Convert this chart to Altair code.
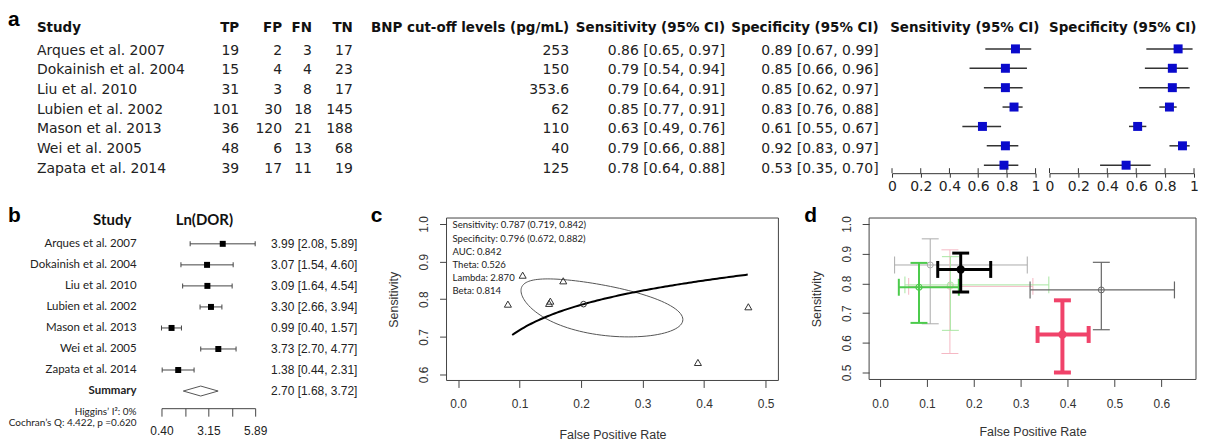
import altair as alt
import pandas as pd

# ---------------- data ----------------
studies = ["Arques et al. 2007", "Dokainish et al. 2004", "Liu et al. 2010",
           "Lubien et al. 2002", "Mason et al. 2013", "Wei et al. 2005", "Zapata et al. 2014"]
tp = [19, 15, 31, 101, 36, 48, 39]
fp = [2, 4, 3, 30, 120, 6, 17]
fn = [3, 4, 8, 18, 21, 13, 11]
tn = [17, 23, 17, 145, 188, 68, 19]
bnp = ["253", "150", "353.6", "62", "110", "40", "125"]
sens = [0.86, 0.79, 0.79, 0.85, 0.63, 0.79, 0.78]
sens_lo = [0.65, 0.54, 0.64, 0.77, 0.49, 0.66, 0.64]
sens_hi = [0.97, 0.94, 0.91, 0.91, 0.76, 0.88, 0.88]
spec = [0.89, 0.85, 0.85, 0.83, 0.61, 0.92, 0.53]
spec_lo = [0.67, 0.66, 0.62, 0.76, 0.55, 0.83, 0.35]
spec_hi = [0.99, 0.96, 0.97, 0.88, 0.67, 0.97, 0.70]
forest_ticks = [0, 0.2, 0.4, 0.6, 0.8, 1]

lndor = [3.99, 3.07, 3.09, 3.30, 0.99, 3.73, 1.38]
lndor_lo = [2.08, 1.54, 1.64, 2.66, 0.40, 2.70, 0.44]
lndor_hi = [5.89, 4.60, 4.54, 3.94, 1.57, 4.77, 2.31]
summary_lndor = [2.70, 1.68, 3.72]
lndor_ticks = [0.40, 1.7725, 3.15, 4.5175, 5.89]
lndor_labelled = [0.40, 3.15, 5.89]
het_text = ["Higgins\u2019 I\u00b2: 0%", "Cochran\u2019s Q: 4.422, p =0.620"]

c_fpr = [0.105, 0.148, 0.150, 0.171, 0.390, 0.081, 0.472]
c_sens = [0.864, 0.789, 0.795, 0.849, 0.632, 0.787, 0.780]
c_summary = [0.204, 0.787]          # (FPR, sensitivity)
c_ellipse = [0.81, 0.46, 2.094]     # logit half-extents (fpr, sens) and phase
c_sroc = [1.914, 0.446]             # logit(sens) = a + b*logit(fpr)
c_sroc_range = [0.088, 0.471]
c_notes = ["Sensitivity: 0.787 (0.719, 0.842)", "Specificity: 0.796 (0.672, 0.882)",
           "AUC: 0.842", "Theta: 0.526", "Lambda: 2.870", "Beta: 0.814"]
c_xticks = [0.0, 0.1, 0.2, 0.3, 0.4, 0.5]
c_yticks = [0.6, 0.7, 0.8, 0.9, 1.0]

d_fpr = [0.107, 0.149, 0.150, 0.172, 0.389, 0.083, 0.472]
d_sens = [0.862, 0.790, 0.795, 0.847, 0.628, 0.787, 0.778]
d_sens_lo = [0.664, 0.564, 0.642, 0.771, 0.500, 0.667, 0.644]
d_sens_hi = [0.950, 0.913, 0.890, 0.902, 0.743, 0.869, 0.871]
d_fpr_lo = [0.031, 0.061, 0.053, 0.123, 0.336, 0.040, 0.320]
d_fpr_hi = [0.314, 0.326, 0.360, 0.236, 0.445, 0.168, 0.628]
d_xticks = [0.0, 0.1, 0.2, 0.3, 0.4, 0.5, 0.6]
d_yticks = [0.5, 0.6, 0.7, 0.8, 0.9, 1.0]

# ---------------- styles ----------------
TF = "DejaVu Sans"
RF = "Liberation Sans"
CF = "Lato"
TXT = "#222222"

d_style = {
    "Arques et al. 2007": ("#ABABAB", 1.0, False),
    "Dokainish et al. 2004": ("#F5B8C4", 1.0, False),
    "Liu et al. 2010": ("#A8E6A2", 1.0, False),
    "Zapata et al. 2014": ("#666666", 1.2, False),
    "Wei et al. 2005": ("#4CCB4C", 2.0, False),
    "Lubien et al. 2002": ("#000000", 3.0, True),
    "Mason et al. 2013": ("#F0436A", 4.0, True),
}


def one(**kw):
    return pd.DataFrame({k: [v] for k, v in kw.items()})


def fmt_ci(e, l, h):
    return [f"{a:.2f} [{b:.2f}, {c:.2f}]" for a, b, c in zip(e, l, h)]


# ---------------- panel a: table ----------------
df_a = pd.DataFrame({"study": studies, "tp": tp, "fp": fp, "fn": fn, "tn": tn, "bnp": bnp,
                     "sens_txt": fmt_ci(sens, sens_lo, sens_hi),
                     "spec_txt": fmt_ci(spec, spec_lo, spec_hi)})
for k in ["tp", "fp", "fn", "tn"]:
    df_a[k] = df_a[k].astype(str)

ya = alt.Y("study:N", scale=alt.Scale(type="point", domain=studies, range=[42.1, 160.4], padding=0),
           axis=None)
cols = [("Study", "study", 29, "left"), ("TP", "tp", 232, "right"), ("FP", "fp", 275, "right"),
        ("FN", "fn", 305, "right"), ("TN", "tn", 346, "right"),
        ("BNP cut-off levels (pg/mL)", "bnp", 563, "right"),
        ("Sensitivity (95% CI)", "sens_txt", 719.5, "right"),
        ("Specificity (95% CI)", "spec_txt", 873.5, "right")]
a_layers = [alt.Chart(one(t="a")).mark_text(align="left", baseline="alphabetic", font=RF,
                                             fontSize=21, fontWeight="bold", color="#000")
            .encode(x=alt.value(0), y=alt.value(17), text="t:N")]
for hdr, field, xp, al in cols:
    a_layers.append(alt.Chart(one(t=hdr)).mark_text(align=al, baseline="middle", font=TF, fontSize=13.5,
                                                    fontWeight="bold", color="#111")
                    .encode(x=alt.value(xp), y=alt.value(19.6), text="t:N"))
    a_layers.append(alt.Chart(df_a).mark_text(align=al, baseline="middle", font=TF, fontSize=14, color=TXT)
                    .encode(x=alt.value(xp), y=ya, text=f"{field}:N"))
panel_a = alt.layer(*a_layers).properties(width=873, height=165)


def forest(est, lo, hi, title, w):
    df = pd.DataFrame({"study": studies, "est": est, "lo": lo, "hi": hi})
    xs = alt.Scale(domain=[0, 1], nice=False, zero=False)
    ax = alt.Axis(values=forest_ticks, format="~g", tickSize=4, tickColor="#333", domainColor="#333",
                  labelPadding=2, labelFont=TF, labelFontSize=14, labelColor=TXT, grid=False,
                  labelFlush=False, labelOverlap=False)
    y = alt.Y("study:N", scale=alt.Scale(type="point", domain=studies, range=[40.3, 157], padding=0),
              axis=None)
    rule = alt.Chart(df).mark_rule(color="#333", strokeWidth=1.5).encode(
        x=alt.X("lo:Q", scale=xs, axis=ax, title=None), x2="hi:Q", y=y)
    sq = alt.Chart(df).mark_square(size=81, color="#0A0ACC", opacity=1).encode(
        x=alt.X("est:Q", scale=xs, axis=ax, title=None), y=y)
    up = alt.Chart(pd.DataFrame({"t": forest_ticks})).mark_rule(color="#333").encode(
        x=alt.X("t:Q", scale=xs, axis=ax, title=None), y=alt.value(160), y2=alt.value(165))
    hd = alt.Chart(one(t=title)).mark_text(align="center", baseline="middle", font=TF, fontSize=13.5,
                                           fontWeight="bold", color="#111").encode(
        x=alt.value(w / 2 + 1), y=alt.value(19.6), text="t:N")
    return alt.layer(rule, sq, up, hd).properties(width=w, height=165)


panel_a_sens = forest(sens, sens_lo, sens_hi, "Sensitivity (95% CI)", 144)
panel_a_spec = forest(spec, spec_lo, spec_hi, "Specificity (95% CI)", 145)

# ---------------- panel b ----------------
BY = 2.5  # vertical shift of panel b contents inside its view
rows_b = studies + ["Summary"]
df_b = pd.DataFrame({"study": studies, "est": lndor, "lo": lndor_lo, "hi": lndor_hi})
df_bt = pd.DataFrame({"study": rows_b,
                      "txt": fmt_ci(lndor + [summary_lndor[0]], lndor_lo + [summary_lndor[1]],
                                    lndor_hi + [summary_lndor[2]])})
e, l, h = summary_lndor
df_dia = pd.DataFrame({"study": ["Summary"] * 5, "dx": [l, e, h, e, l], "dy": [0, -5, 0, 5, 0],
                       "o": [0, 1, 2, 3, 4]})
xb = alt.Scale(domain=[0.40, 5.89], range=[154, 248], nice=False, zero=False)
lab_expr = " || ".join(f"datum.value == {v}" for v in lndor_labelled)
axb = alt.Axis(values=lndor_ticks, labelExpr=f"({lab_expr}) ? format(datum.value, '.2f') : ''",
               offset=25.3 + BY, tickSize=8, tickColor="#444", domainColor="#444", labelPadding=9,
               labelFont=RF, labelFontSize=12, labelColor=TXT, grid=False, labelFlush=False,
               labelOverlap=False)
yb = alt.Y("study:N", scale=alt.Scale(type="point", domain=rows_b, range=[23.4 + BY, 171.1 + BY],
                                      padding=0), axis=None)
XB = lambda f: alt.X(f, scale=xb, axis=axb, title=None)
b_layers = [
    alt.Chart(df_b).mark_rule(color="#444", strokeWidth=1).encode(x=XB("lo:Q"), x2="hi:Q", y=yb),
    alt.Chart(df_b).mark_tick(orient="vertical", size=5, thickness=1, color="#444", opacity=1).encode(
        x=XB("lo:Q"), y=yb),
    alt.Chart(df_b).mark_tick(orient="vertical", size=5, thickness=1, color="#444", opacity=1).encode(
        x=XB("hi:Q"), y=yb),
    alt.Chart(df_b).mark_square(size=36, color="#000", opacity=1).encode(x=XB("est:Q"), y=yb),
    alt.Chart(df_dia).mark_line(color="#555", strokeWidth=1).encode(
        x=XB("dx:Q"), y=yb, yOffset=alt.YOffset("dy:Q", scale=None), order="o:Q"),
    alt.Chart(pd.DataFrame({"study": studies})).mark_text(align="right", baseline="middle", font=CF,
                                                          fontSize=11.5, color=TXT).encode(
        x=alt.value(129), y=yb, text="study:N"),
    alt.Chart(one(study="Summary")).mark_text(align="right", baseline="middle", font=CF, fontSize=11.5,
                                              fontWeight="bold", color=TXT).encode(
        x=alt.value(129), y=yb, text="study:N"),
    alt.Chart(df_bt).mark_text(align="left", baseline="middle", font=RF, fontSize=12, color=TXT).encode(
        x=alt.value(264), y=yb, text="txt:N"),
    alt.Chart(one(t="b")).mark_text(align="left", baseline="alphabetic", font=RF, fontSize=21,
                                     fontWeight="bold", color="#000").encode(
        x=alt.value(0), y=alt.value(4), text="t:N"),
    alt.Chart(one(t="Study")).mark_text(align="center", baseline="middle", font=CF, fontSize=15,
                                         fontWeight="bold", color="#111").encode(
        x=alt.value(104.5), y=alt.value(1.5), text="t:N"),
    alt.Chart(one(t="Ln(DOR)")).mark_text(align="center", baseline="middle", font=CF, fontSize=15,
                                           fontWeight="bold", color="#111").encode(
        x=alt.value(197), y=alt.value(1.5), text="t:N"),
]
for i, t in enumerate(het_text):
    b_layers.append(alt.Chart(one(t=t)).mark_text(align="right", baseline="middle", font=CF, fontSize=10,
                                                  color=TXT).encode(
        x=alt.value(129), y=alt.value(191.7 + BY + 11 * i), text="t:N"))
panel_b = alt.layer(*b_layers).properties(width=426, height=163)


# ---------------- panels c and d: shared axis helper ----------------
def r_axis(values, title, vertical, lab_pad, title_pad):
    kw = dict(values=values, format=".1f", title=title, domain=False, tickSize=7, tickColor="#444",
              labelFont=RF, labelFontSize=12, labelColor="#333", labelPadding=lab_pad,
              titleFont=RF, titleFontSize=12.5, titleFontWeight="normal", titleColor="#333",
              titlePadding=title_pad, grid=False, labelFlush=False, labelOverlap=False)
    if vertical:
        kw.update(labelAngle=-90, labelAlign="center", labelBaseline="bottom")
    return alt.Axis(**kw)


# ---------------- panel c ----------------
CW, CH = 333, 163
xc = alt.Scale(domain=[-0.0188, 0.5209], range=[0, CW], nice=False, zero=False)
yc = alt.Scale(domain=[0.5841, 1.0159], nice=False, zero=False)
axc_x = r_axis(c_xticks, "False Positive Rate", False, 11, 19)
axc_y = r_axis(c_yticks, "Sensitivity", True, 9.5, 17)
XC = lambda f: alt.X(f, scale=xc, axis=axc_x)
YC = lambda f: alt.Y(f, scale=yc, axis=axc_y)

df_c = pd.DataFrame({"fpr": c_fpr, "sens": c_sens})
sx, sy = c_summary
ea, eb, ph = c_ellipse
ellipse = alt.Chart(alt.sequence(0, 121, 1, as_="i")).transform_calculate(
    t="datum.i * PI / 60",
).transform_calculate(
    lx=f"log({sx}/(1-{sx})) + {ea}*cos(datum.t)",
    ly=f"log({sy}/(1-{sy})) + {eb}*cos(datum.t - {ph})",
).transform_calculate(
    fpr="1/(1+exp(-datum.lx))", sens="1/(1+exp(-datum.ly))"
).mark_line(color="#555", strokeWidth=1).encode(x=XC("fpr:Q"), y=YC("sens:Q"), order="i:Q")
sa, sb = c_sroc
f0, f1 = c_sroc_range
sroc = alt.Chart(alt.sequence(0, 101, 1, as_="i")).transform_calculate(
    fpr=f"{f0} + ({f1}-{f0})*datum.i/100"
).transform_calculate(
    sens=f"1/(1+exp(-({sa} + {sb}*log(datum.fpr/(1-datum.fpr)))))"
).mark_line(color="#000", strokeWidth=2).encode(x=XC("fpr:Q"), y=YC("sens:Q"), order="i:Q")
tri = alt.Chart(df_c).mark_point(shape="triangle-up", filled=False, size=50, color="#333",
                                 strokeWidth=1, opacity=1).encode(x=XC("fpr:Q"), y=YC("sens:Q"))
summ = alt.Chart(one(fpr=sx, sens=sy)).mark_point(shape="circle", filled=False, size=32, color="#333",
                                                  strokeWidth=1, opacity=1).encode(
    x=XC("fpr:Q"), y=YC("sens:Q"))
frame_c = alt.Chart(one(z=0)).mark_rect(fillOpacity=0, stroke="#444", strokeWidth=1).encode(
    x=alt.value(0), x2=alt.value(CW), y=alt.value(0), y2=alt.value(CH))
c_layers = [frame_c, ellipse, sroc, tri, summ]
for i, t in enumerate(c_notes):
    c_layers.append(alt.Chart(one(t=t)).mark_text(align="left", baseline="middle", font=CF, fontSize=9.6,
                                                  color=TXT).encode(
        x=alt.value(6), y=alt.value(7.5 + 13.1 * i), text="t:N"))
c_layers.append(alt.Chart(one(t="c")).mark_text(align="left", baseline="alphabetic", font=RF, fontSize=21,
                                                fontWeight="bold", color="#000").encode(
    x=alt.value(-76), y=alt.value(4), text="t:N"))
panel_c = alt.layer(*c_layers).properties(width=410, height=CH)

# ---------------- panel d ----------------
DW, DH = 328, 162
xd = alt.Scale(domain=[-0.0234, 0.674], nice=False, zero=False)
yd = alt.Scale(domain=[0.4765, 1.0201], nice=False, zero=False)
axd_x = r_axis(d_xticks, "False Positive Rate", False, 12, 16)
axd_y = r_axis(d_yticks, "Sensitivity", True, 8.5, 17)
XD = lambda f: alt.X(f, scale=xd, axis=axd_x)
YD = lambda f: alt.Y(f, scale=yd, axis=axd_y)
df_d = pd.DataFrame({"study": studies, "fpr": d_fpr, "sens": d_sens, "slo": d_sens_lo, "shi": d_sens_hi,
                     "flo": d_fpr_lo, "fhi": d_fpr_hi})
frame_d = alt.Chart(one(z=0)).mark_rect(fillOpacity=0, stroke="#444", strokeWidth=1).encode(
    x=alt.value(0), x2=alt.value(DW), y=alt.value(0), y2=alt.value(DH))
d_layers = [frame_d]
for s, (col, w, filled) in d_style.items():
    base = alt.Chart(df_d).transform_filter(alt.datum.study == s)
    d_layers += [
        base.mark_rule(color=col, strokeWidth=w).encode(x=XD("flo:Q"), x2="fhi:Q", y=YD("sens:Q")),
        base.mark_rule(color=col, strokeWidth=w).encode(x=XD("fpr:Q"), y=YD("slo:Q"), y2="shi:Q"),
        base.mark_tick(orient="horizontal", size=17, thickness=w, color=col, opacity=1).encode(
            x=XD("fpr:Q"), y=YD("shi:Q")),
        base.mark_tick(orient="horizontal", size=17, thickness=w, color=col, opacity=1).encode(
            x=XD("fpr:Q"), y=YD("slo:Q")),
        base.mark_tick(orient="vertical", size=17, thickness=w, color=col, opacity=1).encode(
            x=XD("flo:Q"), y=YD("sens:Q")),
        base.mark_tick(orient="vertical", size=17, thickness=w, color=col, opacity=1).encode(
            x=XD("fhi:Q"), y=YD("sens:Q")),
        base.mark_point(shape="circle", filled=filled, size=70 if filled else 36, color=col,
                        strokeWidth=max(1.0, w * 0.6), opacity=1).encode(x=XD("fpr:Q"), y=YD("sens:Q")),
    ]
d_layers.append(alt.Chart(one(t="d")).mark_text(align="left", baseline="alphabetic", font=RF, fontSize=21,
                                                fontWeight="bold", color="#000").encode(
    x=alt.value(-65), y=alt.value(4), text="t:N"))
panel_d = alt.layer(*d_layers).properties(width=DW, height=DH)

# ---------------- assemble ----------------
row1 = alt.hconcat(panel_a, panel_a_sens, panel_a_spec, spacing=14, bounds="flush")
row2 = alt.hconcat(panel_b, panel_c, panel_d, spacing=14, bounds="flush")
chart = alt.vconcat(row1, row2, spacing=12).properties(padding=0, background="white").configure_view(
    stroke=None)

chart.save("out.html", embed_options={"renderer": "svg", "actions": False})
